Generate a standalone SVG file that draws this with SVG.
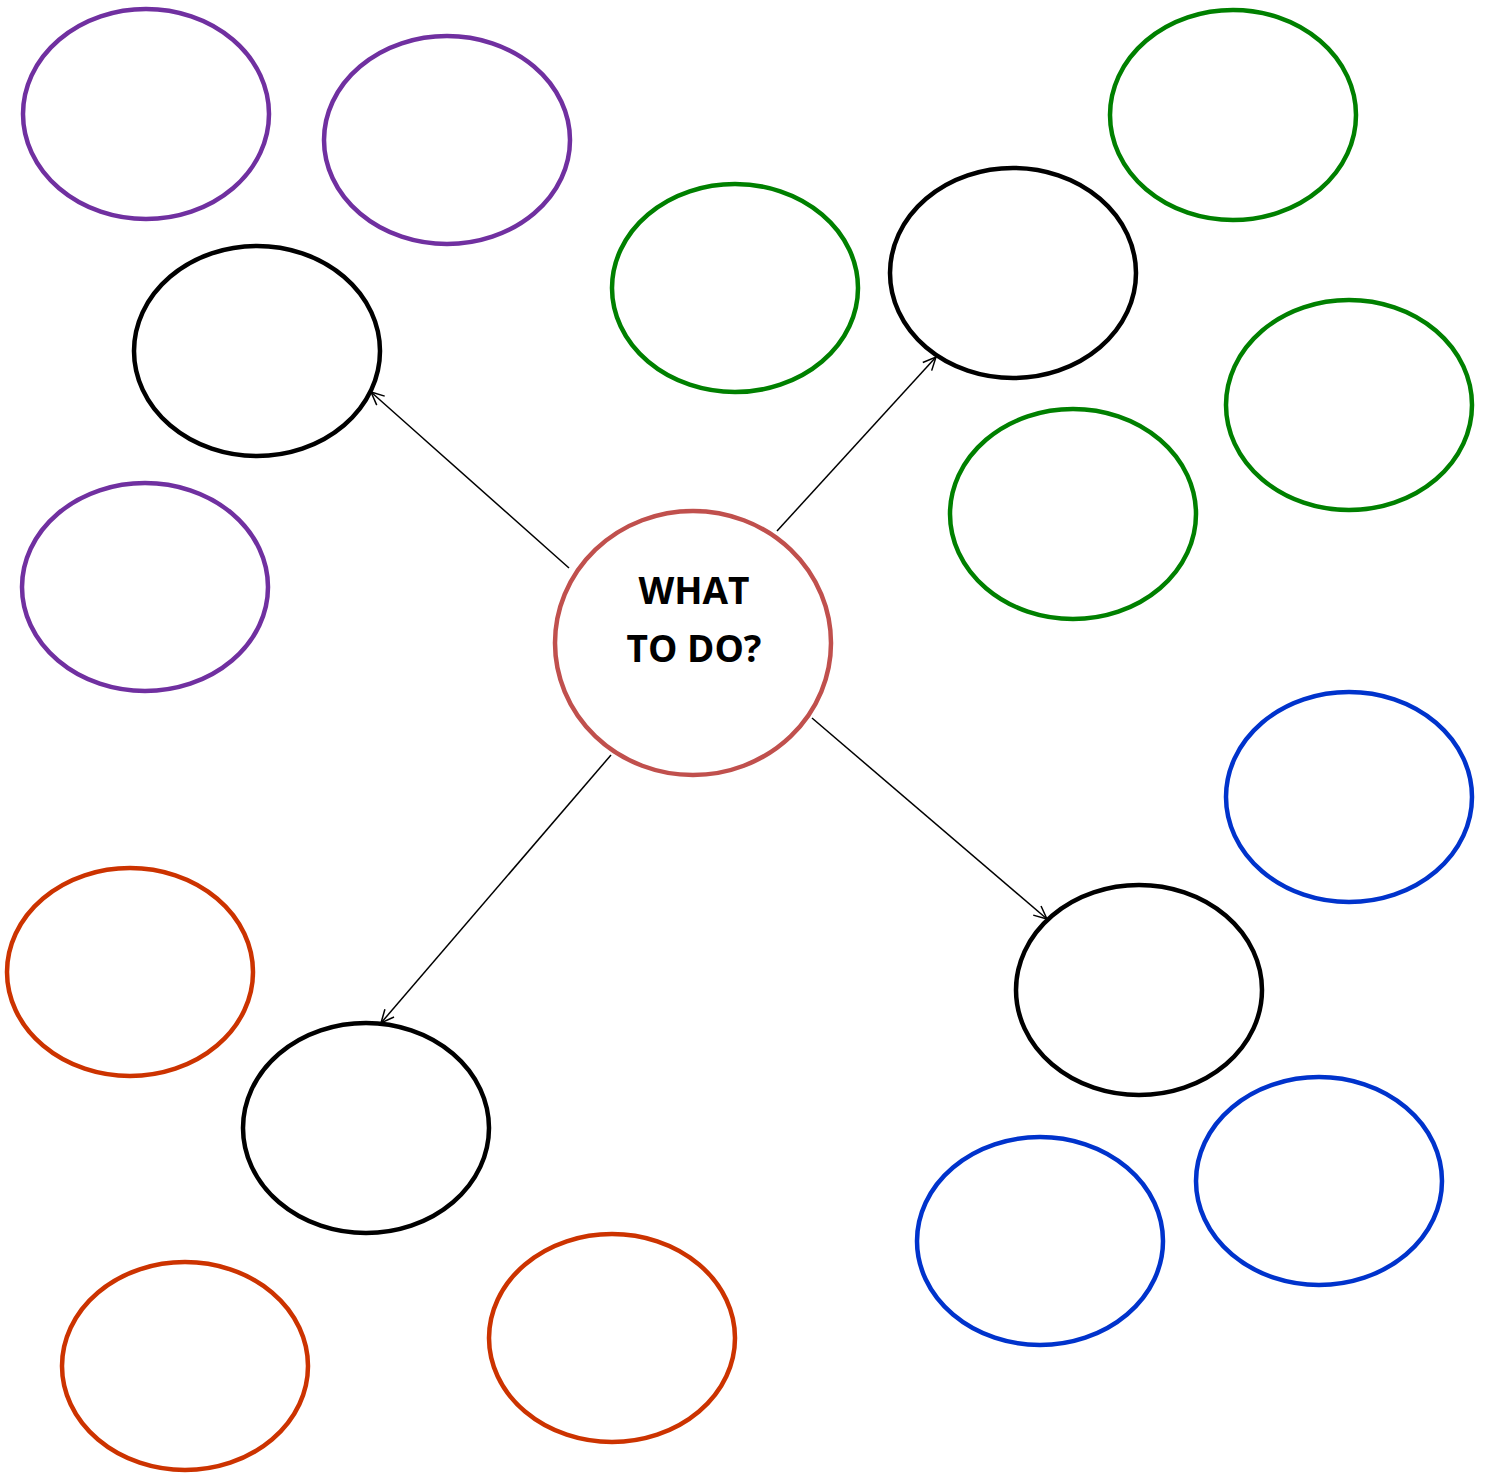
<svg xmlns="http://www.w3.org/2000/svg" width="1485" height="1475" viewBox="0 0 1485 1475">
<style>
.n{fill:none;stroke-width:4.5}
.p{stroke:#7030A0}.k{stroke:#000}.g{stroke:#008000}.b{stroke:#0033CC}.r{stroke:#CC3300}
.c{fill:#fff;stroke:#C0504D;stroke-width:4.5}
.e{stroke:#000;stroke-width:1.5;fill:none;marker-end:url(#ah)}
.t{font-family:"Open Sans","DejaVu Sans",sans-serif;font-weight:bold;font-size:37px;fill:#000;text-anchor:middle}
</style>
<defs>
<marker id="ah" markerUnits="userSpaceOnUse" markerWidth="20" markerHeight="20" refX="14" refY="7" orient="auto">
<path d="M1,1 L14,7 L1,13" fill="none" stroke="#000" stroke-width="1.5"/>
</marker>
</defs>
<rect width="1485" height="1475" fill="#fff"/>
<g id="connectors">
<line class="e" x1="569" y1="568" x2="371" y2="392"/>
<line class="e" x1="777" y1="531" x2="936" y2="357"/>
<line class="e" x1="812" y1="718" x2="1047" y2="919"/>
<line class="e" x1="611" y1="755" x2="381" y2="1023"/>
</g>
<g id="center"><ellipse class="c" cx="693" cy="643" rx="138" ry="132"/>
<text class="t" x="694" y="604">WHAT</text><text class="t" x="694" y="662">TO DO?</text></g>
<g id="p1"><ellipse class="n p" cx="146" cy="114" rx="123" ry="105"/></g>
<g id="p2"><ellipse class="n p" cx="447" cy="140" rx="123" ry="104"/></g>
<g id="p3"><ellipse class="n p" cx="145" cy="587" rx="123" ry="104"/></g>
<g id="k1"><ellipse class="n k" cx="257" cy="351" rx="123" ry="105"/></g>
<g id="k2"><ellipse class="n k" cx="1013" cy="273" rx="123" ry="105"/></g>
<g id="k3"><ellipse class="n k" cx="1139" cy="990" rx="123" ry="105"/></g>
<g id="k4"><ellipse class="n k" cx="366" cy="1128" rx="123" ry="105"/></g>
<g id="g1"><ellipse class="n g" cx="735" cy="288" rx="123" ry="104"/></g>
<g id="g2"><ellipse class="n g" cx="1233" cy="115" rx="123" ry="105"/></g>
<g id="g3"><ellipse class="n g" cx="1349" cy="405" rx="123" ry="105"/></g>
<g id="g4"><ellipse class="n g" cx="1073" cy="514" rx="123" ry="105"/></g>
<g id="b1"><ellipse class="n b" cx="1349" cy="797" rx="123" ry="105"/></g>
<g id="b2"><ellipse class="n b" cx="1040" cy="1241" rx="123" ry="104"/></g>
<g id="b3"><ellipse class="n b" cx="1319" cy="1181" rx="123" ry="104"/></g>
<g id="r1"><ellipse class="n r" cx="130" cy="972" rx="123" ry="104"/></g>
<g id="r2"><ellipse class="n r" cx="185" cy="1366" rx="123" ry="104"/></g>
<g id="r3"><ellipse class="n r" cx="612" cy="1338" rx="123" ry="104"/></g>
</svg>
